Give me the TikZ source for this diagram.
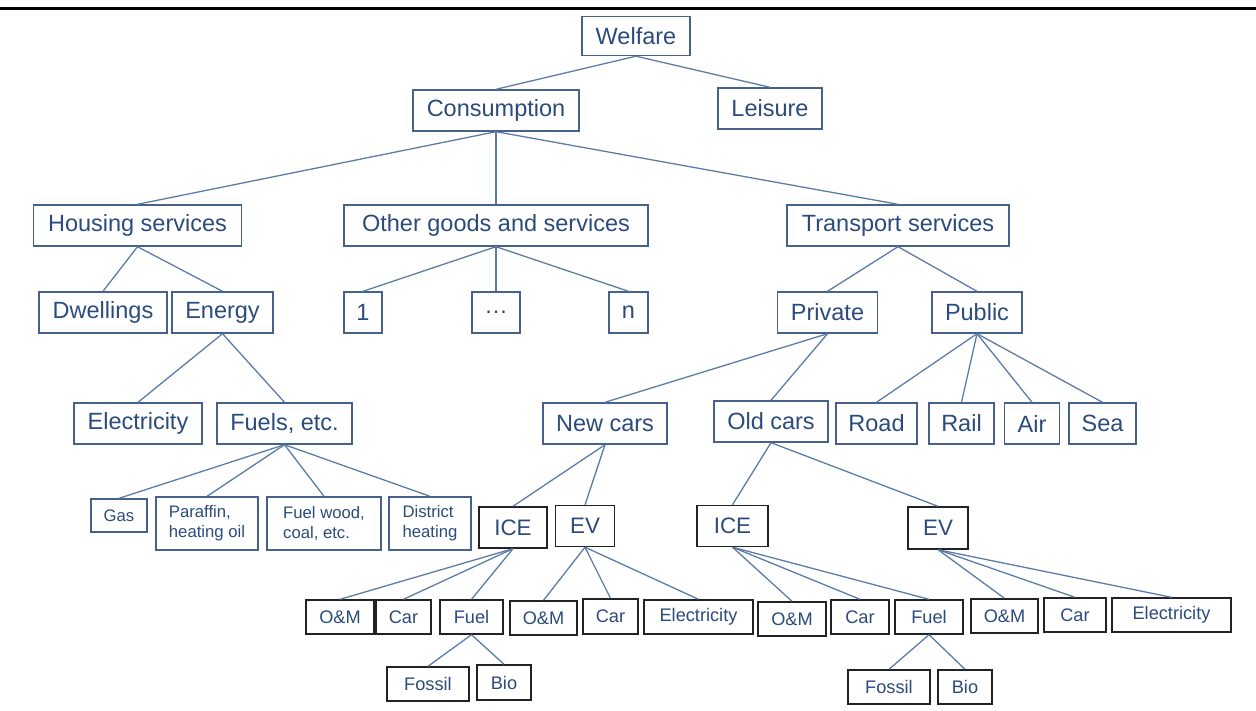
\documentclass[tikz,border=0pt]{standalone}
\usepackage{fontspec}
\setmainfont{Liberation Sans}
\usepackage{xcolor}
\definecolor{txtblue}{HTML}{2B4B7C}
\definecolor{edgeblue}{HTML}{47628A}
\definecolor{linkblue}{HTML}{5C7CA8}
\definecolor{edgedark}{HTML}{222222}

\begin{document}
\begin{tikzpicture}[x=1pt,y=-1pt,
	wh/.style 2 args={minimum width=#1pt,minimum height=#2pt},
	box/.style={draw=edgeblue,line width=1.4pt,text=txtblue,inner sep=0pt,font=\fontsize{23.5}{28}\selectfont},
	fuelbox/.style={box,align=left,font=\fontsize{16.7}{20}\selectfont},
	carbox/.style={box,draw=edgedark,font=\fontsize{22.4}{26}\selectfont},
	partbox/.style={box,draw=edgedark,font=\fontsize{18.2}{22}\selectfont},
	link/.style={draw=linkblue,line width=1.3pt}]
	\useasboundingbox (0,0) rectangle (1256,711);
	\draw[line width=3pt] (0,8.5) -- (1256,8.5);
	
	\node[box,wh={108}{39}] (welfare) at (636,36) {Welfare};
	\node[box,wh={166}{41}] (consumption) at (496,110.5) {Consumption};
	\node[box,wh={104}{41}] (leisure) at (770,108.5) {Leisure};
	
	\node[box,wh={208}{41}] (housing) at (137.5,225.5) {Housing services};
	\node[box,wh={304}{41}] (other) at (496,225.5) {Other goods and services};
	\node[box,wh={222}{41}] (transport) at (898,225.5) {Transport services};
	
	\node[box,wh={128}{41}] (dwellings) at (103,312.5) {Dwellings};
	\node[box,wh={101}{41}] (energy) at (222.5,312.5) {Energy};
	\node[box,wh={38}{41}] (good1) at (363,312.5) {1};
	\node[box,wh={48}{41}] (gooddots) at (496,312.5) {\dots};
	\node[box,wh={39}{41}] (goodn) at (628.5,312.5) {n};
	\node[box,wh={100}{41}] (private) at (827.5,312.5) {Private};
	\node[box,wh={90}{41}] (public) at (977,312.5) {Public};
	
	\node[box,wh={128}{41}] (electricity) at (138,423.5) {Electricity};
	\node[box,wh={135}{41}] (fuels) at (284.5,423.5) {Fuels, etc.};
	\node[box,wh={124}{41}] (newcars) at (605,423.5) {New cars};
	\node[box,wh={114}{41}] (oldcars) at (771,421.5) {Old cars};
	\node[box,wh={81}{41}] (road) at (876.5,423.5) {Road};
	\node[box,wh={65}{41}] (rail) at (961.5,423.5) {Rail};
	\node[box,wh={55}{41}] (air) at (1032,423.5) {Air};
	\node[box,wh={67}{41}] (sea) at (1102.5,423.5) {Sea};
	
	\node[fuelbox,wh={56}{33}] (gas) at (119,515.5) {Gas};
	\node[fuelbox,wh={102}{53}] (paraffin) at (207,523.5) {Paraffin,\\heating oil};
	\node[fuelbox,wh={114}{53}] (fuelwood) at (324,523.5) {Fuel wood,\\coal, etc.};
	\node[fuelbox,wh={82}{53}] (district) at (430,523.5) {District\\heating};
	
	\node[carbox,wh={68}{41}] (newice) at (513,527.5) {ICE};
	\node[carbox,wh={59}{41}] (newev) at (585,526) {EV};
	\node[carbox,wh={71}{41}] (oldice) at (732.5,526) {ICE};
	\node[carbox,wh={60}{42}] (oldev) at (938,528) {EV};
	
	\node[partbox,wh={68}{34}] (newiceom) at (340,617) {O\&M};
	\node[partbox,wh={55}{34}] (newicecar) at (403.5,617) {Car};
	\node[partbox,wh={63}{34}] (newicefuel) at (471.5,617) {Fuel};
	\node[partbox,wh={67}{34}] (newevom) at (543.5,618) {O\&M};
	\node[partbox,wh={55}{35}] (newevcar) at (610.5,616.5) {Car};
	\node[partbox,wh={109}{34}] (newevel) at (698.5,617) {Electricity};
	\node[partbox,wh={68}{34}] (oldiceom) at (792,619) {O\&M};
	\node[partbox,wh={58}{34}] (oldicecar) at (860,617) {Car};
	\node[partbox,wh={68}{34}] (oldicefuel) at (929,617) {Fuel};
	\node[partbox,wh={67}{34}] (oldevom) at (1004.5,616) {O\&M};
	\node[partbox,wh={62}{34}] (oldevcar) at (1075,615) {Car};
	\node[partbox,wh={119}{34}] (oldevel) at (1171.5,615) {Electricity};
	
	\node[partbox,wh={82}{34}] (newfossil) at (428,684) {Fossil};
	\node[partbox,wh={54}{35}] (newbio) at (504,682.5) {Bio};
	\node[partbox,wh={82}{34}] (oldfossil) at (889,687) {Fossil};
	\node[partbox,wh={54}{34}] (oldbio) at (965,687) {Bio};
	
	\draw[link] (welfare.south) -- (consumption.north);
	\draw[link] (welfare.south) -- (leisure.north);
	\draw[link] (consumption.south) -- (housing.north);
	\draw[link] (consumption.south) -- (other.north);
	\draw[link] (consumption.south) -- (transport.north);
	\draw[link] (housing.south) -- (dwellings.north);
	\draw[link] (housing.south) -- (energy.north);
	\draw[link] (other.south) -- (good1.north);
	\draw[link] (other.south) -- (gooddots.north);
	\draw[link] (other.south) -- (goodn.north);
	\draw[link] (transport.south) -- (private.north);
	\draw[link] (transport.south) -- (public.north);
	\draw[link] (energy.south) -- (electricity.north);
	\draw[link] (energy.south) -- (fuels.north);
	\draw[link] (fuels.south) -- (gas.north);
	\draw[link] (fuels.south) -- (paraffin.north);
	\draw[link] (fuels.south) -- (fuelwood.north);
	\draw[link] (fuels.south) -- (district.north);
	\draw[link] (private.south) -- (newcars.north);
	\draw[link] (private.south) -- (oldcars.north);
	\draw[link] (public.south) -- (road.north);
	\draw[link] (public.south) -- (rail.north);
	\draw[link] (public.south) -- (air.north);
	\draw[link] (public.south) -- (sea.north);
	\draw[link] (newcars.south) -- (newice.north);
	\draw[link] (newcars.south) -- (newev.north);
	\draw[link] (oldcars.south) -- (oldice.north);
	\draw[link] (oldcars.south) -- (oldev.north);
	\draw[link] (newice.south) -- (newiceom.north);
	\draw[link] (newice.south) -- (newicecar.north);
	\draw[link] (newice.south) -- (newicefuel.north);
	\draw[link] (newev.south) -- (newevom.north);
	\draw[link] (newev.south) -- (newevcar.north);
	\draw[link] (newev.south) -- (newevel.north);
	\draw[link] (oldice.south) -- (oldiceom.north);
	\draw[link] (oldice.south) -- (oldicecar.north);
	\draw[link] (oldice.south) -- (oldicefuel.north);
	\draw[link] (oldev.south) -- (oldevom.north);
	\draw[link] (oldev.south) -- (oldevcar.north);
	\draw[link] (oldev.south) -- (oldevel.north);
	\draw[link] (newicefuel.south) -- (newfossil.north);
	\draw[link] (newicefuel.south) -- (newbio.north);
	\draw[link] (oldicefuel.south) -- (oldfossil.north);
	\draw[link] (oldicefuel.south) -- (oldbio.north);
\end{tikzpicture}
\end{document}
